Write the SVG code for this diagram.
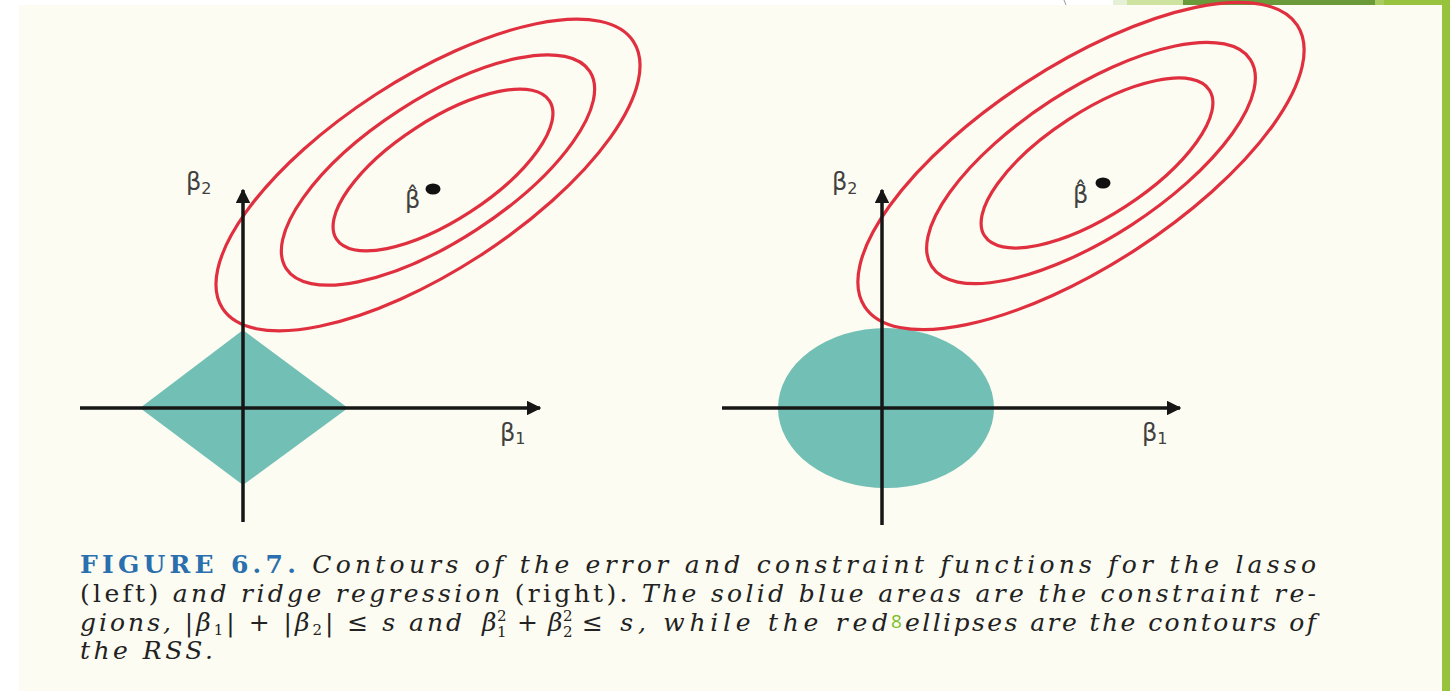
<svg xmlns="http://www.w3.org/2000/svg" width="1450" height="691" viewBox="0 0 1450 691">
<style>
.axis{stroke:#161616;stroke-width:3.5;fill:none}
.rss{fill:none;stroke:#e0303f;stroke-width:3.2}
.region{fill:#72bfb5}
.lbl{font-family:"DejaVu Sans","Liberation Sans",sans-serif;fill:#404040;font-size:24px}
.sub{font-size:16px}
.cap{font-family:"DejaVu Serif","Liberation Serif",serif;font-size:25px;fill:#222222;font-style:italic}
.up{font-style:normal}
.sc{font-size:15px;font-style:normal}
.fig{font-style:normal;font-weight:bold;fill:#2a6fae}
</style>
<defs>
<marker id="arr" viewBox="0 0 10 10" refX="9" refY="5" markerWidth="4.2" markerHeight="4.2" orient="auto" markerUnits="strokeWidth">
<path d="M0,0 L10,5 L0,10 z" fill="#161616"/>
</marker>
</defs>
<rect x="0" y="0" width="1450" height="691" fill="#ffffff"/>
<g id="slide-deco">
<rect x="1113" y="0" width="14" height="6" fill="#e6f0d6"/>
<rect x="1127" y="0" width="56" height="6" fill="#cfe3a0"/>
<rect x="1183" y="0" width="192" height="6" fill="#6a9a3a"/>
<rect x="1375" y="0" width="9" height="6" fill="#a8cc60"/>
<rect x="1384" y="0" width="66" height="6" fill="#98c33f"/>
<line x1="1064" y1="0" x2="1066" y2="5" stroke="#9a9a9a" stroke-width="1"/>
<rect x="1442" y="0" width="8" height="691" fill="#96c23c"/>
</g>
<rect id="figure-bg" x="19" y="5" width="1423" height="686" fill="#fcfcf2"/>
<g id="lasso-region"><polygon class="region" points="243,330 348,408 243,485 140,408"/></g>
<g id="ridge-region"><ellipse class="region" cx="886" cy="408" rx="108" ry="80"/></g>
<g id="rss-left">
<ellipse class="rss" cx="428" cy="175" rx="245" ry="96" transform="rotate(-33 428 175)"/>
<ellipse class="rss" cx="438" cy="170" rx="181" ry="71" transform="rotate(-33 438 170)"/>
<ellipse class="rss" cx="443" cy="170" rx="127" ry="50" transform="rotate(-33 443 170)"/>
</g>
<g id="rss-right">
<ellipse class="rss" cx="1081" cy="166" rx="258" ry="100" transform="rotate(-33 1081 166)"/>
<ellipse class="rss" cx="1091" cy="163" rx="190" ry="74" transform="rotate(-33 1091 163)"/>
<ellipse class="rss" cx="1097" cy="163" rx="134" ry="52" transform="rotate(-33 1097 163)"/>
</g>
<g id="connectors">
<line class="axis" x1="243" y1="522" x2="243" y2="190" marker-end="url(#arr)"/>
<line class="axis" x1="80" y1="408" x2="540" y2="408" marker-end="url(#arr)"/>
<line class="axis" x1="882" y1="525" x2="882" y2="190" marker-end="url(#arr)"/>
<line class="axis" x1="722" y1="408" x2="1180" y2="408" marker-end="url(#arr)"/>
</g>
<g id="labels-left">
<text class="lbl" x="186" y="190">β<tspan class="sub" dy="4">2</tspan></text>
<text class="lbl" x="500" y="441">β<tspan class="sub" dy="3">1</tspan></text>
<text class="lbl" x="405" y="208">β̂</text>
<ellipse cx="433" cy="189" rx="7.5" ry="5.5" fill="#111"/>
</g>
<g id="labels-right">
<text class="lbl" x="832" y="190">β<tspan class="sub" dy="4">2</tspan></text>
<text class="lbl" x="1142" y="441">β<tspan class="sub" dy="3">1</tspan></text>
<text class="lbl" x="1073" y="203">β̂</text>
<ellipse cx="1103" cy="183" rx="7.5" ry="5.5" fill="#111"/>
</g>
<g id="caption">
<text class="cap" x="80" y="573" textLength="1236" lengthAdjust="spacing"><tspan class="fig">FIGURE 6.7.</tspan> Contours of the error and constraint functions for the lasso</text>
<text class="cap" x="80" y="602" textLength="1236" lengthAdjust="spacing"><tspan class="up">(left)</tspan> and ridge regression <tspan class="up">(right).</tspan> The solid blue areas are the constraint re-</text>
<text class="cap" x="80" y="631" textLength="382" lengthAdjust="spacing">gions, <tspan class="up">|</tspan>β<tspan class="sc" dy="4">1</tspan><tspan class="up" dy="-4">| + |</tspan>β<tspan class="sc" dy="4">2</tspan><tspan class="up" dy="-4">| ≤</tspan> s and</text>
<text class="cap" x="482" y="631">β</text>
<text class="cap sc" x="497" y="621">2</text>
<text class="cap sc" x="497" y="637">1</text>
<text class="cap up" x="517" y="631">+</text>
<text class="cap" x="548" y="631">β</text>
<text class="cap sc" x="563" y="621">2</text>
<text class="cap sc" x="563" y="637">2</text>
<text class="cap" x="582" y="631" textLength="306" lengthAdjust="spacing"><tspan class="up">≤</tspan> s, while the red</text>
<text class="cap" x="905" y="631" textLength="411" lengthAdjust="spacing">ellipses are the contours of</text>
<text class="cap" x="80" y="659" textLength="133" lengthAdjust="spacing">the RSS.</text>
</g>
<text id="slide-number" x="891" y="628" font-family="'Open Sans','Liberation Sans',sans-serif" font-size="19" fill="#7cbd2a">8</text>
</svg>
